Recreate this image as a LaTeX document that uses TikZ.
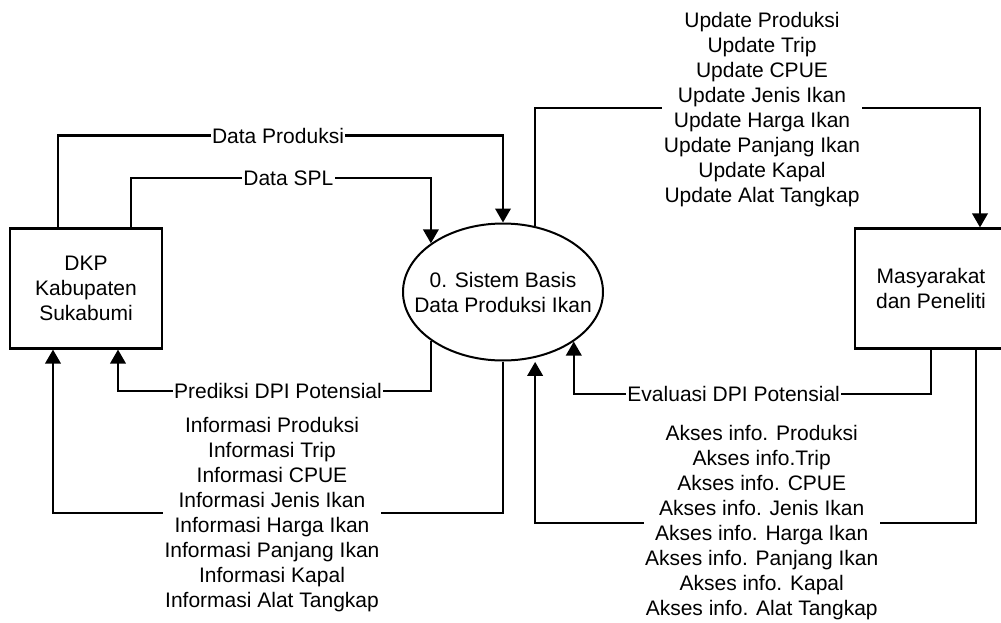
\documentclass[tikz,border=0pt]{standalone}
\usepackage{fontspec}
\setmainfont{Liberation Sans}
\usetikzlibrary{arrows.meta,shapes.geometric}
\begin{document}
\begin{tikzpicture}[x=1pt,y=-1pt,
  txt/.style={font=\fontsize{21}{25}\selectfont, align=center},
  entity/.style={draw, line width=2.2pt, fill=white, minimum width=152pt,
    minimum height=120pt, inner sep=0pt, txt},
  process/.style={draw, ellipse, line width=2pt, fill=white,
    minimum width=200pt, minimum height=137pt, inner sep=0pt},
  flow/.style={line width=2.2pt, -{Triangle[length=14pt,width=15.5pt]}},
  lbl/.style={txt, fill=white, inner xsep=1.5pt, inner ysep=0pt}]
\useasboundingbox (0,0) rectangle (1001,623);
\fill[white] (0,0) rectangle (1001,623);
\clip (0,0) rectangle (1001,623);

% external entities and the process
\node[entity] (dkp) at (86,288.5) {DKP\\Kabupaten\\Sukabumi};
\node[process] (sys) at (503,292) {};
\node[txt] (systxt) at (sys.center) {0. Sistem Basis\\Data Produksi Ikan};
\node[entity] (mas) at (931,288.5) {Masyarakat\\dan Peneliti};

% ports on the entity boxes
\coordinate (dkpA) at ([xshift=-28pt]dkp.north);
\coordinate (dkpB) at ([xshift=45pt]dkp.north);
\coordinate (dkpC) at ([xshift=32pt]dkp.south);
\coordinate (dkpD) at ([xshift=-33pt]dkp.south);
\coordinate (masA) at ([xshift=49pt]mas.north);
\coordinate (masB) at (mas.south);
\coordinate (masC) at ([xshift=45pt]mas.south);

% data flows
\draw[flow] (dkpA) |- (sys.north |- 0,135.5) -- (sys.north);
\draw[flow] (dkpB) |- (sys.146 |- 0,178) -- (sys.146);
\draw[flow] (sys.64) |- (masA |- 0,108) -- (masA);
\draw[flow] (sys.214) |- (dkpC |- 0,391) -- (dkpC);
\draw[flow] (sys.south) |- (dkpD |- 0,513) -- (dkpD);
\draw[flow] (masB) |- (sys.325 |- 0,394) -- (sys.325);
\draw[flow, shorten >=4pt] (masC) |- (sys.296 |- 0,523) -- (sys.296);

% flow labels
\node[lbl] (lprod) at (278,135.5) {Data Produksi};
\node[lbl] (lspl) at (288.3,178) {Data SPL};
\node[lbl] (lupd) at (762,109.5) {Update Produksi\\Update Trip\\Update CPUE\\Update Jenis Ikan\\Update Harga Ikan\\Update Panjang Ikan\\Update Kapal\\Update Alat Tangkap};
\node[lbl] (lpred) at (278,391) {Prediksi DPI Potensial};
\node[lbl] (linfo) at (272,514.5) {Informasi Produksi\\Informasi Trip\\Informasi CPUE\\Informasi Jenis Ikan\\Informasi Harga Ikan\\Informasi Panjang Ikan\\Informasi Kapal\\Informasi Alat Tangkap};
\node[lbl] (leval) at (733.7,394) {Evaluasi DPI Potensial};
\node[lbl] (lakses) at (761.7,522.7) {Akses info. Produksi\\Akses info.Trip\\Akses info. CPUE\\Akses info. Jenis Ikan\\Akses info. Harga Ikan\\Akses info. Panjang Ikan\\Akses info. Kapal\\Akses info. Alat Tangkap};
\end{tikzpicture}
\end{document}
